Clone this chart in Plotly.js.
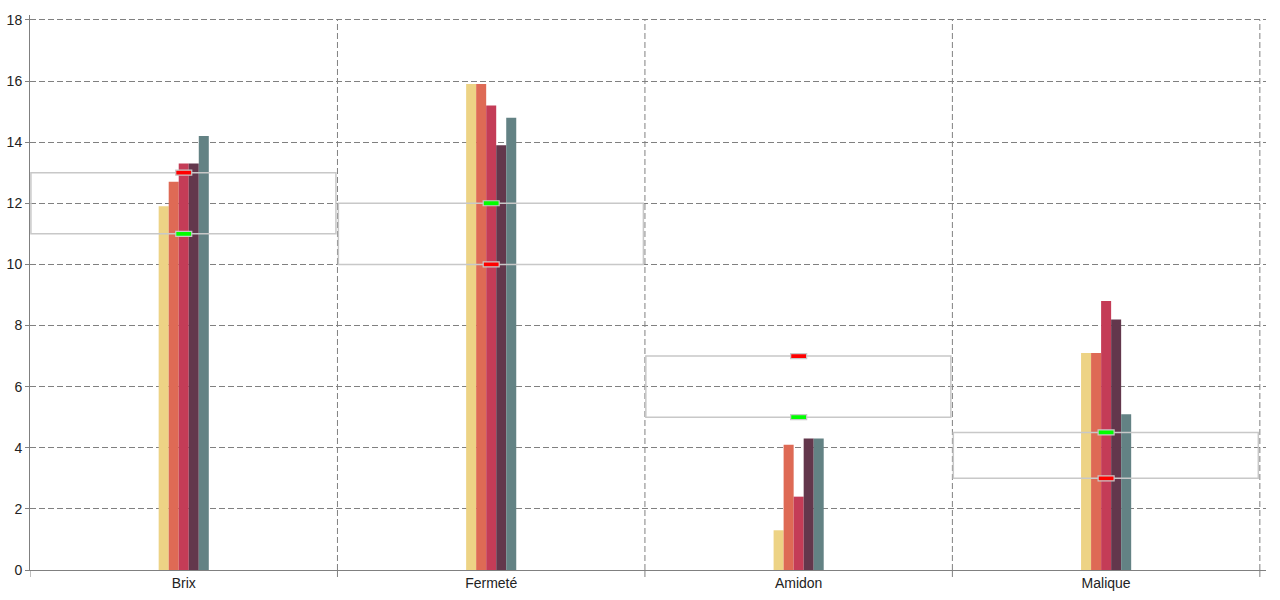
<!DOCTYPE html>
<html>
<head>
<meta charset="utf-8">
<script src="https://cdn.plot.ly/plotly-3.0.1.min.js"></script>
<style>html,body{margin:0;padding:0;background:#fff;}#chart{width:1280px;height:600px;}</style>
</head>
<body>
<div id="chart"></div>
<script>
const categories = ["Brix", "Fermeté", "Amidon", "Malique"];
const seriesNames = ["Série 1", "Série 2", "Série 3", "Série 4", "Série 5"];
const serie1 = [11.9, 15.9, 1.3, 7.1];
const serie2 = [12.7, 15.9, 4.1, 7.1];
const serie3 = [13.3, 15.2, 2.4, 8.8];
const serie4 = [13.3, 13.9, 4.3, 8.2];
const serie5 = [14.2, 14.8, 4.3, 5.1];
const seuilMin = [11, 12, 5, 4.5];   // green markers
const seuilMax = [13, 10, 7, 3];     // red markers
const colors = ["#EDD385", "#DE6A55", "#C43C57", "#63374C", "#638284"];

const allSeries = [serie1, serie2, serie3, serie4, serie5];
const idx = categories.map((c, i) => i);

const traces = allSeries.map((vals, k) => ({
  type: "bar",
  name: seriesNames[k],
  x: idx,
  y: vals,
  marker: {color: colors[k], line: {width: 0}},
  hoverinfo: "y"
}));

const shapes = [];
idx.forEach(i => {
  const lo = Math.min(seuilMin[i], seuilMax[i]);
  const hi = Math.max(seuilMin[i], seuilMax[i]);
  shapes.push({
    type: "rect", xref: "x", yref: "y", layer: "above",
    x0: i - 0.497, x1: i + 0.495, y0: lo, y1: hi,
    line: {color: "#C8C8C8", width: 1.5}, fillcolor: "rgba(0,0,0,0)"
  });
  [[seuilMax[i], "#FF0000"], [seuilMin[i], "#00FF00"]].forEach(([v, c]) => {
    shapes.push({
      type: "rect", layer: "above",
      xref: "x", yref: "y",
      xsizemode: "pixel", ysizemode: "pixel",
      xanchor: i, yanchor: v,
      x0: -8, x1: 8, y0: -2.5, y1: 2.5,
      line: {color: "#C8C8C8", width: 1.2}, fillcolor: c
    });
  });
});

const layout = {
  width: 1280, height: 600,
  margin: {l: 30, r: 14, t: 15, b: 30},
  paper_bgcolor: "#fff", plot_bgcolor: "#fff",
  showlegend: false,
  barmode: "group",
  bargap: 0.837,
  bargroupgap: 0,
  font: {family: "Liberation Sans, Arial, sans-serif", size: 14, color: "#222"},
  xaxis: {
    type: "linear",
    range: [-0.5, 3.52],
    tickmode: "array",
    tickvals: idx,
    ticktext: categories,
    showgrid: false,
    showline: true, linecolor: "#808080", linewidth: 1,
    ticks: "", zeroline: false,
    tickfont: {size: 14, color: "#222"}
  },
  yaxis: {
    range: [0, 18.16],
    tickvals: [0, 2, 4, 6, 8, 10, 12, 14, 16, 18],
    showgrid: true, gridcolor: "#808080", griddash: "6px,3px", gridwidth: 1,
    showline: true, linecolor: "#808080", linewidth: 1,
    ticks: "outside", ticklen: 4, tickcolor: "#808080",
    zeroline: false,
    tickfont: {size: 14, color: "#222"}
  },
  shapes: shapes
};

// category boundary gridlines and tick marks built from the categories
idx.forEach(i => {
  const b = i + 0.5;
  layout.shapes.unshift({
    type: "line", xref: "x", yref: "y", layer: "below",
    x0: b, x1: b, y0: 0, y1: 18,
    line: {color: "#808080", width: 1, dash: "6px,3px"}
  });
});
[-0.5].concat(idx.map(i => i + 0.5)).forEach(b => {
  layout.shapes.push({
    type: "line", xref: "x", yref: "paper", layer: "above",
    ysizemode: "pixel", yanchor: 0,
    x0: b, x1: b, y0: 0, y1: -7,
    line: {color: "#808080", width: 1}
  });
});

Plotly.newPlot("chart", traces, layout, {displayModeBar: false, staticPlot: true});
</script>
</body>
</html>
